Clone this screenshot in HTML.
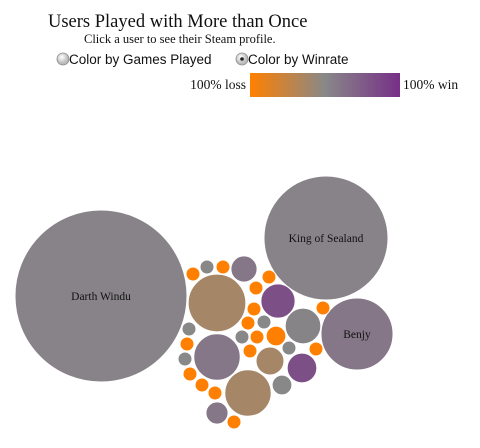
<!DOCTYPE html>
<html><head><meta charset="utf-8"><style>
body{margin:0;width:480px;height:448px;background:#fff;overflow:hidden;font-family:"Liberation Serif",serif}
svg{position:absolute;left:0;top:0}
</style></head><body>
<svg width="480" height="448">
<defs><linearGradient id="g" x1="0" x2="1"><stop offset="0" stop-color="#ff8000"/><stop offset="0.5" stop-color="#888888"/><stop offset="1" stop-color="#772f87"/></linearGradient>
<radialGradient id="rb" cx="0.4" cy="0.35"><stop offset="0" stop-color="#fff"/><stop offset="1" stop-color="#bbb"/></radialGradient></defs>
<text x="48" y="27" font-size="18.5" fill="#111">Users Played with More than Once</text>
<text x="84" y="43" font-size="12.5" fill="#111">Click a user to see their Steam profile.</text>
<g><circle cx="63" cy="59" r="6" fill="url(#rb)" stroke="#888" stroke-width="0.8"/>
<text x="69" y="64" font-family="Liberation Sans,sans-serif" font-size="13.5" fill="#111">Color by Games Played</text></g>
<g><circle cx="242" cy="59" r="6" fill="url(#rb)" stroke="#888" stroke-width="0.8"/><circle cx="242" cy="59" r="1.8" fill="#222"/>
<text x="248" y="64" font-family="Liberation Sans,sans-serif" font-size="13.5" fill="#111">Color by Winrate</text></g>
<text x="246" y="89" font-size="13.5" text-anchor="end" fill="#111">100% loss</text>
<rect x="250" y="73" width="150" height="24" fill="url(#g)"/>
<text x="403" y="89" font-size="13.5" fill="#111">100% win</text>
<g id="bubbles"></g>
</svg>
<script>
const names=["Darth Windu","King of Sealand","Benjy","","","","","","","","","","","","","","","","","","","","","","","","","","","","","","","","",""];
const cxs=[101,326,357,193,207,223,244,217,269,256,278,254,323,303,248,264,189,276,242,257,187,217,250,289,316,185,270,302,190,202,282,248,215,217,234];
const cys=[296,238,334,274,267,267,269,303,277,288,301,309,308,326,323,322,329,336,337,337,344,357,351,348,349,359,361,368,374,385,385,393,393,413,422];
const games=[302,157,53,2,2,2,7,34,2,2,12,2,2,13,2,2,2,4,2,2,2,22,2,2,2,2,8,9,2,2,4,22,2,5,2];
const winrates=[0.53,0.53,0.6,0,0.5,0,0.6,0.38,0,0,0.82,0,0,0.52,0,0.5,0.5,0,0.5,0,0,0.6,0,0.5,0,0.5,0.38,0.82,0,0,0.5,0.38,0,0.6,0];
function rScale(g){return 4.95*Math.sqrt(g);}
function lerp(a,b,t){return a.map((v,i)=>Math.round(v+(b[i]-v)*t));}
function color(w){const o=[255,128,0],g=[136,136,136],p=[119,47,135];
const c=w<0.5?lerp(o,g,w/0.5):lerp(g,p,(w-0.5)/0.5);return `rgb(${c})`;}
const G=document.getElementById('bubbles');const NS="http://www.w3.org/2000/svg";
games.forEach((gm,i)=>{
const c=document.createElementNS(NS,'circle');
c.setAttribute('cx',cxs[i]);c.setAttribute('cy',cys[i]);c.setAttribute('r',rScale(gm));
c.setAttribute('fill',color(winrates[i]));c.setAttribute('stroke','#fff');c.setAttribute('stroke-width','1');


G.appendChild(c);
if(names[i]){const t=document.createElementNS(NS,'text');
t.setAttribute('x',cxs[i]);t.setAttribute('y',cys[i]+4);t.setAttribute('text-anchor','middle');t.setAttribute('font-size','11.5');t.setAttribute('fill','#111');
t.textContent=names[i];


G.appendChild(t);}
});
</script>
</body></html>
